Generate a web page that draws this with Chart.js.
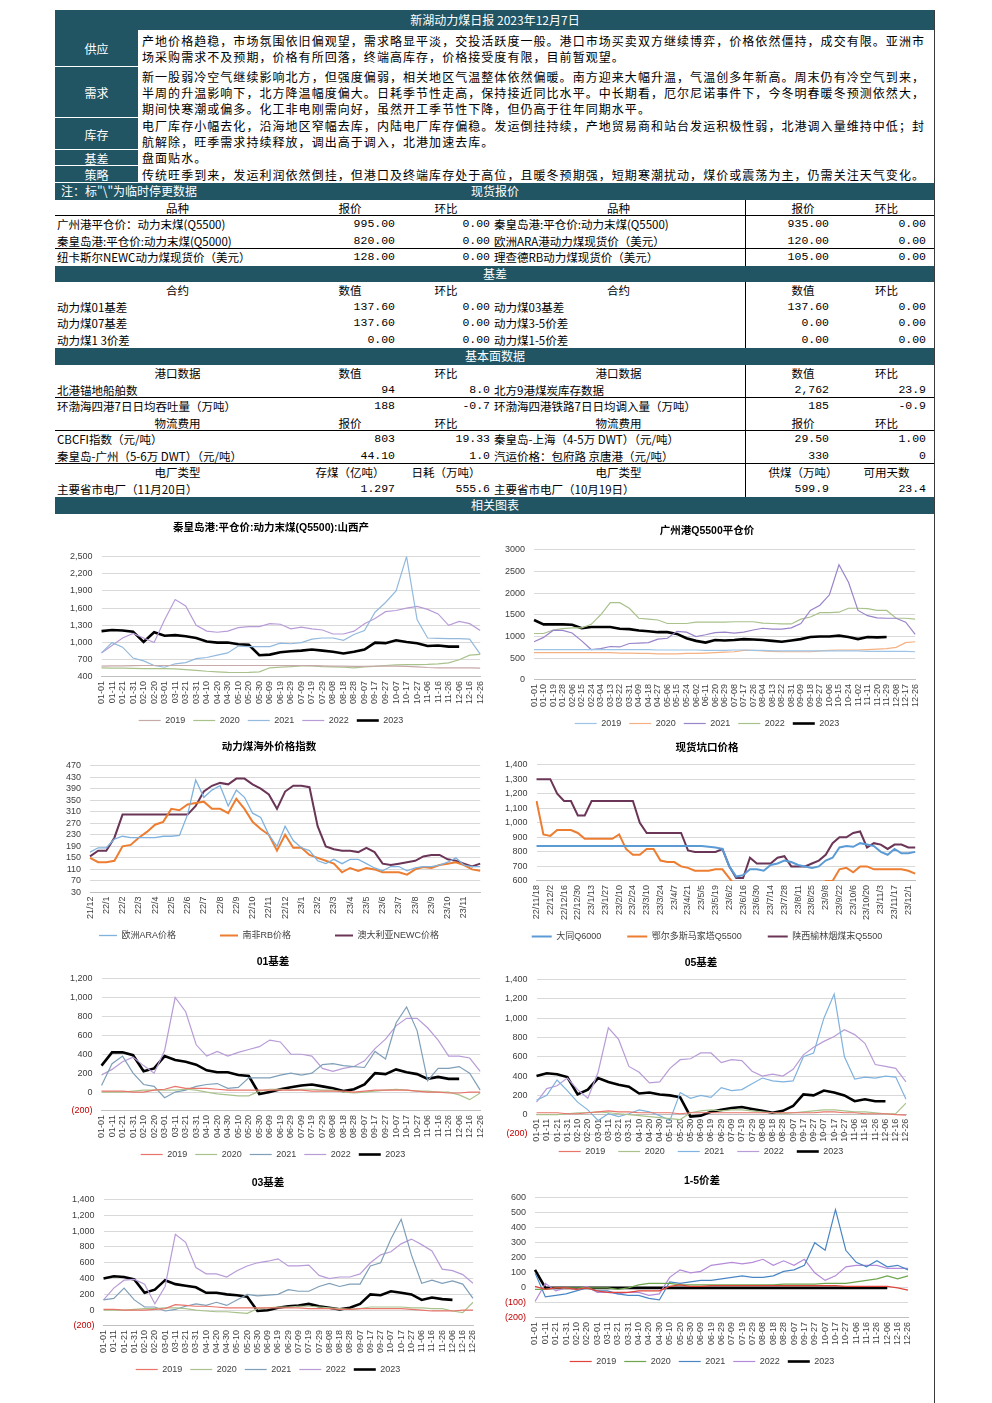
<!DOCTYPE html>
<html lang="zh-CN">
<head>
<meta charset="utf-8">
<title>新湖动力煤日报 2023年12月7日</title>
<script src="https://cdn.jsdelivr.net/npm/chart.js@4.4.0/dist/chart.umd.min.js"></script>
<style>
  * { box-sizing: border-box; }
  body { margin: 0; background: #fff; color: #000; font-family: "Noto Sans CJK SC", sans-serif; }
  #page { position: relative; width: 992px; height: 1403px; overflow: hidden; }
  #edge { position: absolute; left: 934px; top: 10px; width: 1px; height: 1393px; background: #3a3a3a; }

  #top { position: absolute; left: 55px; top: 10px; width: 880px; }
  #top .ttl { height: 20px; line-height: 20px; background: #215563; color: #fff; text-align: center; font-size: 12px; }
  #top .trow { display: flex; overflow: hidden; }
  #top .lab { width: 83px; flex: none; display: flex; align-items: center; justify-content: center;
              background: #215563; color: #fff; font-size: 12px; box-shadow: inset 0 -1px 0 #fff; }
  #top .txt { flex: 1; display: flex; align-items: center; font-size: 12px; letter-spacing: 1.05px; line-height: 16px;
              padding-left: 4px; white-space: nowrap; overflow: hidden; }

  #grid { position: absolute; left: 55px; top: 183px; width: 880px; }
  .bar { height: 16.55px; background: #215563; color: #fff; font-size: 12px; text-align: center; line-height: 16.55px; position: relative; }
  .bar .note { position: absolute; left: 6px; top: 0; }
  .row { display: grid; grid-template-columns: 245px 100px 92px 253px 115px 75px; height: 16.55px; font-size: 11.5px; line-height: 16px; }
  .row > div { white-space: nowrap; overflow: hidden; }
  .row > div:nth-child(5) { border-left: 1px solid #000; }
  .row .c { text-align: center; }
  .row .t { padding-left: 2px; }
  .row .m { font-family: "Liberation Mono", monospace; font-size: 11.5px; text-align: right; }
  .row > .m:nth-child(2) { padding-right: 5px; }
  .row > .m:nth-child(3) { padding-right: 2px; }
  .row > .m:nth-child(5) { padding-right: 31px; }
  .row > .m:nth-child(6) { padding-right: 9px; }
  .row.hd > div:nth-child(6) { padding-right: 22px; }
  .row.ln { border-bottom: 1px solid #000; }

  .cbox { position: absolute; width: 440px; }
</style>
</head>
<body>
<div id="page">
  <div id="top">
    <div class="ttl">新湖动力煤日报 2023年12月7日</div>
    <div class="trow" style="height:37px"><div class="lab">供应</div><div class="txt">产地价格趋稳，市场氛围依旧偏观望，需求略显平淡，交投活跃度一般。港口市场买卖双方继续博弈，价格依然僵持，成交有限。亚洲市<br>场采购需求不及预期，价格有所回落，终端高库存，价格接受度有限，目前暂观望。</div></div>
    <div class="trow" style="height:51px"><div class="lab">需求</div><div class="txt">新一股弱冷空气继续影响北方，但强度偏弱，相关地区气温整体依然偏暖。南方迎来大幅升温，气温创多年新高。周末仍有冷空气到来，<br>半周的升温影响下，北方降温幅度偏大。日耗季节性走高，保持接近同比水平。中长期看，厄尔尼诺事件下，今冬明春暖冬预测依然大，<br>期间快寒潮或偏多。化工非电刚需向好，虽然开工季节性下降，但仍高于往年同期水平。</div></div>
    <div class="trow" style="height:32px"><div class="lab">库存</div><div class="txt">电厂库存小幅去化，沿海地区窄幅去库，内陆电厂库存偏稳。发运倒挂持续，产地贸易商和站台发运积极性弱，北港调入量维持中低；封<br>航解除，旺季需求持续释放，调出高于调入，北港加速去库。</div></div>
    <div class="trow" style="height:16px"><div class="lab">基差</div><div class="txt">盘面贴水。</div></div>
    <div class="trow" style="height:17px"><div class="lab">策略</div><div class="txt">传统旺季到来，发运利润依然倒挂，但港口及终端库存处于高位，且暖冬预期强，短期寒潮扰动，煤价或震荡为主，仍需关注天气变化。</div></div>
  </div>

  <div id="grid">
    <div class="bar"><span class="note">注：标"\"为临时停更数据</span>现货报价</div>
    <div class="row hd ln"><div class="c">品种</div><div class="c">报价</div><div class="c">环比</div><div class="c">品种</div><div class="c">报价</div><div class="c">环比</div></div>
    <div class="row"><div class="t">广州港平仓价：动力末煤(Q5500)</div><div class="m">995.00</div><div class="m">0.00</div><div class="t">秦皇岛港:平仓价:动力末煤(Q5500)</div><div class="m">935.00</div><div class="m">0.00</div></div>
    <div class="row ln"><div class="t">秦皇岛港:平仓价:动力末煤(Q5000)</div><div class="m">820.00</div><div class="m">0.00</div><div class="t">欧洲ARA港动力煤现货价（美元）</div><div class="m">120.00</div><div class="m">0.00</div></div>
    <div class="row"><div class="t">纽卡斯尔NEWC动力煤现货价（美元）</div><div class="m">128.00</div><div class="m">0.00</div><div class="t">理查德RB动力煤现货价（美元）</div><div class="m">105.00</div><div class="m">0.00</div></div>
    <div class="bar">基差</div>
    <div class="row hd"><div class="c">合约</div><div class="c">数值</div><div class="c">环比</div><div class="c">合约</div><div class="c">数值</div><div class="c">环比</div></div>
    <div class="row"><div class="t">动力煤01基差</div><div class="m">137.60</div><div class="m">0.00</div><div class="t">动力煤03基差</div><div class="m">137.60</div><div class="m">0.00</div></div>
    <div class="row"><div class="t">动力煤07基差</div><div class="m">137.60</div><div class="m">0.00</div><div class="t">动力煤3-5价差</div><div class="m">0.00</div><div class="m">0.00</div></div>
    <div class="row"><div class="t">动力煤1 3价差</div><div class="m">0.00</div><div class="m">0.00</div><div class="t">动力煤1-5价差</div><div class="m">0.00</div><div class="m">0.00</div></div>
    <div class="bar">基本面数据</div>
    <div class="row hd"><div class="c">港口数据</div><div class="c">数值</div><div class="c">环比</div><div class="c">港口数据</div><div class="c">数值</div><div class="c">环比</div></div>
    <div class="row ln"><div class="t">北港锚地船舶数</div><div class="m">94</div><div class="m">8.0</div><div class="t">北方9港煤炭库存数据</div><div class="m">2,762</div><div class="m">23.9</div></div>
    <div class="row"><div class="t">环渤海四港7日日均吞吐量（万吨）</div><div class="m">188</div><div class="m">-0.7</div><div class="t">环渤海四港铁路7日日均调入量（万吨）</div><div class="m">185</div><div class="m">-0.9</div></div>
    <div class="row hd ln"><div class="c">物流费用</div><div class="c">报价</div><div class="c">环比</div><div class="c">物流费用</div><div class="c">报价</div><div class="c">环比</div></div>
    <div class="row"><div class="t">CBCFI指数（元/吨）</div><div class="m">803</div><div class="m">19.33</div><div class="t">秦皇岛-上海（4-5万 DWT）（元/吨）</div><div class="m">29.50</div><div class="m">1.00</div></div>
    <div class="row ln"><div class="t">秦皇岛-广州（5-6万 DWT）（元/吨）</div><div class="m">44.10</div><div class="m">1.0</div><div class="t">汽运价格：包府路 京唐港（元/吨）</div><div class="m">330</div><div class="m">0</div></div>
    <div class="row hd"><div class="c">电厂类型</div><div class="c">存煤（亿吨）</div><div class="c">日耗（万吨）</div><div class="c">电厂类型</div><div class="c">供煤（万吨）</div><div class="c">可用天数</div></div>
    <div class="row"><div class="t">主要省市电厂（11月20日）</div><div class="m">1.297</div><div class="m">555.6</div><div class="t">主要省市电厂（10月19日）</div><div class="m">599.9</div><div class="m">23.4</div></div>
    <div class="bar">相关图表</div>
  </div>

  <div class="cbox" style="left:55px;top:514px;height:221px"><canvas id="c1"></canvas></div>
  <div class="cbox" style="left:490px;top:517px;height:221px"><canvas id="c2"></canvas></div>
  <div class="cbox" style="left:55px;top:735px;height:215px"><canvas id="c3"></canvas></div>
  <div class="cbox" style="left:490px;top:736px;height:215px"><canvas id="c4"></canvas></div>
  <div class="cbox" style="left:55px;top:950px;height:219px"><canvas id="c5"></canvas></div>
  <div class="cbox" style="left:490px;top:951px;height:215px"><canvas id="c6"></canvas></div>
  <div class="cbox" style="left:55px;top:1167px;height:217px"><canvas id="c7"></canvas></div>
  <div class="cbox" style="left:490px;top:1169px;height:215px"><canvas id="c8"></canvas></div>
  <div id="edge"></div>
</div>

<script>
// ---- x-axis categories ----
const days10 = ['01-01','01-11','01-21','01-31','02-10','02-20','03-01','03-11','03-21','03-31','04-10','04-20','04-30',
  '05-10','05-20','05-30','06-09','06-19','06-29','07-09','07-19','07-29','08-08','08-18','08-28','09-07','09-17','09-27',
  '10-07','10-17','10-27','11-06','11-16','11-26','12-06','12-16','12-26'];
const days9 = ['01-01','01-10','01-19','01-28','02-06','02-15','02-24','03-04','03-13','03-22','03-31','04-09','04-18','04-27',
  '05-06','05-15','05-24','06-02','06-11','06-20','06-29','07-08','07-17','07-26','08-04','08-13','08-22','08-31','09-09',
  '09-18','09-27','10-06','10-15','10-24','11-02','11-11','11-20','11-29','12-08','12-17','12-26'];
const halfMonths = ['21/12','','22/1','','22/2','','22/3','','22/4','','22/5','','22/6','','22/7','','22/8','','22/9','',
  '22/10','','22/11','','22/12','','23/1','','23/2','','23/3','','23/4','','23/5','','23/6','','23/7','','23/8','',
  '23/9','','23/10','','23/11','',''];
const weeks = ['22/11/18','','22/12/2','','22/12/16','','22/12/30','','23/1/13','','23/1/27','','23/2/10','','23/2/24','',
  '23/3/10','','23/3/24','','23/4/7','','23/4/21','','23/5/5','','23/5/19','','23/6/2','','23/6/16','','23/6/30','',
  '23/7/14','','23/7/28','','23/8/11','','23/8/25','','23/9/8','','23/9/22','','23/10/6','','23/10/20','','23/11/3','',
  '23/11/17','','23/12/1',''];
const yearNames = ['2019','2020','2021','2022','2023'];

// ---- 秦皇岛港 平仓价 Q5500 山西产 ----
const qhd2019 = [590,595,595,598,600,600,600,600,600,600,600,600,600,600,600,600,600,598,598,600,598,595,590,590,585,585,590,590,590,585,575,565,560,560,558,558,555];
const qhd2020 = [560,555,555,550,545,545,545,540,530,515,500,490,480,478,480,490,560,570,580,595,595,580,575,570,560,575,585,600,610,615,615,620,630,645,700,780,795];
const qhd2021 = [820,1000,920,730,680,600,570,630,650,720,740,780,820,940,930,930,930,990,980,1000,1060,1080,1080,1040,1140,1210,1530,1700,1900,2500,1400,1080,1075,1070,1070,1060,800];
const qhd2022 = [820,950,1080,1160,1080,1000,1400,1750,1640,1300,1200,1180,1200,1260,1280,1280,1330,1320,1240,1270,1240,1220,1150,1150,1200,1330,1420,1540,1560,1600,1630,1580,1500,1300,1370,1330,1210];
const qhd2023 = [1200,1220,1210,1190,1010,1180,1120,1130,1110,1080,1020,1000,1000,970,960,780,790,830,850,860,880,860,840,810,840,880,1000,990,1040,1010,990,940,950,930,930,null,null];

// ---- 广州港 Q5500 平仓价 ----
const gz2019 = [700,700,700,700,700,700,700,700,700,700,700,700,700,690,690,690,690,690,680,680,680,690,690,680,680,670,670,670,670,670,670,670,670,670,670,660,660,660,660,660,650];
const gz2020 = [630,630,630,630,630,630,630,630,630,620,620,610,610,600,600,600,610,610,620,630,640,650,680,680,670,660,650,650,650,650,670,680,690,690,690,700,710,720,750,860,880];
const gz2021 = [880,980,1140,1140,1080,900,700,720,770,760,840,850,860,940,960,1120,1100,1000,1040,1090,1100,1080,1100,1150,1190,1170,1170,1200,1300,1600,1720,1960,2650,2250,1600,1480,1430,1420,1420,1330,1050];
const gz2022 = [1070,1070,1150,1180,1200,1200,1280,1500,1780,1780,1650,1420,1400,1380,1300,1300,1300,1330,1330,1330,1330,1340,1340,1340,1310,1300,1290,1290,1400,1450,1550,1550,1560,1650,1650,1640,1600,1600,1420,1420,1400];
const gz2023 = [1380,1280,1280,1280,1270,1190,1220,1220,1220,1180,1170,1140,1120,1100,1100,1060,960,900,860,920,910,920,940,930,920,900,880,910,940,990,1000,1000,1020,990,940,990,980,990,null,null,null];

// ---- 海外价格指数 (美元) ----
const araPrice = [170,185,185,215,225,220,220,220,220,225,225,228,300,420,360,385,400,330,385,360,305,290,230,190,260,210,185,175,140,130,145,130,145,145,130,115,105,120,120,105,115,120,120,125,135,150,125,120,120];
const rbPrice = [150,135,135,140,190,195,220,240,265,275,320,315,335,340,345,320,320,305,355,320,275,250,230,175,230,185,185,160,150,140,130,100,115,105,115,110,100,100,100,92,110,118,115,125,130,135,125,110,105];
const newcPrice = [155,175,175,220,300,300,300,300,300,300,300,300,300,330,380,400,410,405,425,425,405,390,370,320,380,400,400,395,260,190,180,175,175,170,185,170,130,125,130,135,140,155,160,160,145,140,130,120,130];

// ---- 坑口价格 ----
const datongQ6000 = [840,840,840,840,840,840,840,840,840,840,840,840,840,840,840,840,840,840,840,840,840,840,840,840,840,835,830,820,700,630,640,680,680,670,710,720,740,730,710,700,690,700,740,760,830,840,835,860,850,840,800,780,820,790,790,800];
const ordosQ5500 = [1150,920,910,950,950,950,930,890,890,890,890,890,920,820,780,780,820,820,740,730,730,700,690,670,670,670,680,680,620,560,560,560,560,560,560,560,560,560,560,560,560,560,600,600,680,690,660,700,700,680,680,680,680,680,670,650];
const yulinQ5500 = [1300,1300,1300,1200,1150,1150,1050,1050,1150,1150,1150,1150,1150,1150,1150,1000,930,930,930,930,930,930,810,800,800,800,800,820,700,620,620,760,720,720,720,760,770,700,700,700,720,740,780,860,900,900,930,940,830,860,850,820,850,850,830,830];

// ---- 01基差 ----
const b01y2019 = [10,10,10,0,0,20,30,60,40,40,40,30,20,20,20,20,20,20,20,20,10,10,10,10,0,10,20,20,20,20,10,0,0,-10,-10,0,0];
const b01y2020 = [0,0,0,10,20,20,20,20,30,20,0,-20,-30,-40,-40,10,30,30,20,30,30,20,20,0,-10,0,10,20,30,20,10,10,0,0,-30,-80,-10];
const b01y2021 = [70,300,380,200,80,60,-60,0,20,60,80,90,40,50,150,150,150,180,200,180,200,290,300,280,270,260,430,350,730,900,650,120,250,250,270,200,20];
const b01y2022 = [180,240,320,370,280,200,440,1000,850,500,380,430,380,420,450,480,550,530,400,400,380,250,220,250,270,330,460,560,700,780,780,680,550,380,380,360,220];
const b01y2023 = [280,420,420,390,220,250,380,340,320,290,230,210,210,180,170,-20,0,30,50,70,80,60,40,10,30,80,200,190,240,210,190,140,160,140,140,null,null];

// ---- 05基差 ----
const b05y2019 = [20,20,20,10,10,20,30,40,30,30,20,20,20,20,10,20,20,20,20,20,20,20,20,20,20,20,20,20,30,30,20,20,10,10,10,0,-5];
const b05y2020 = [0,0,0,10,20,20,30,20,10,0,-10,-20,-30,-40,-50,20,40,50,40,50,50,40,30,20,10,20,30,40,50,50,40,30,30,20,10,10,120];
const b05y2021 = [150,200,360,250,130,50,-60,10,-20,10,50,30,-10,-60,230,170,200,180,280,250,260,320,380,350,340,350,600,640,1000,1250,600,370,390,380,400,390,160];
const b05y2022 = [130,270,300,380,260,170,440,900,780,500,440,330,340,480,570,580,640,640,540,570,560,450,400,420,400,470,620,700,760,810,880,830,740,520,500,480,340];
const b05y2023 = [400,430,420,390,210,260,380,340,310,290,220,230,210,200,180,-20,-10,30,50,70,80,60,40,20,40,90,210,200,250,230,200,140,160,140,140,null,null];

// ---- 03基差 ----
const b03y2019 = [10,10,0,0,0,10,20,70,60,50,50,40,30,30,30,30,30,30,30,30,20,20,20,10,10,20,20,20,20,20,10,0,-10,-10,-10,0,0];
const b03y2020 = [0,0,0,10,20,20,30,30,20,0,-10,-20,-20,-30,-40,20,30,40,40,50,50,40,30,20,10,20,40,40,40,40,30,30,20,20,-10,-30,100];
const b03y2021 = [130,150,280,130,40,40,-10,10,50,80,60,100,60,130,200,180,190,200,260,240,240,300,340,300,330,330,560,600,900,1150,700,340,380,340,370,330,150];
const b03y2022 = [130,280,380,390,330,80,300,960,860,540,460,460,420,500,560,600,620,650,560,560,570,440,400,420,420,460,600,700,740,840,900,830,750,520,500,450,340];
const b03y2023 = [400,430,420,390,220,260,380,330,310,290,220,220,200,190,170,-10,0,30,50,60,80,50,30,10,30,80,200,190,240,220,200,130,160,140,130,null,null];

// ---- 1-5价差 ----
const s15y2019 = [10,-10,0,0,-10,0,-20,-30,-30,-30,-20,-20,-20,10,20,10,10,15,15,15,15,15,15,15,15,15,15,15,15,15,10,10,10,10,10,0,-15];
const s15y2020 = [-10,-10,0,0,0,0,0,0,-10,0,20,30,30,30,20,20,20,20,20,20,20,20,20,20,25,25,25,25,30,30,30,40,50,60,80,60,80];
const s15y2021 = [100,-60,-50,-40,-20,0,-20,-20,-40,-50,-50,-70,-80,40,30,40,50,50,60,70,80,70,70,80,110,120,150,300,250,520,250,170,140,180,140,150,120];
const s15y2022 = [-90,30,-20,0,-10,10,-30,-30,-40,-30,-30,-50,-40,70,120,100,110,150,160,170,160,170,190,150,180,150,190,100,50,80,140,150,150,150,130,130,130];
const s15y2023 = [120,0,0,0,0,0,0,0,0,0,0,0,0,0,0,0,0,0,0,0,0,0,0,0,0,0,0,0,0,0,0,0,0,0,0,null,null];

Chart.defaults.font.family = "'Liberation Sans', 'Noto Sans CJK SC', sans-serif";
Chart.defaults.color = '#404040';

function fmt(v, comma) {
  const a = Math.abs(v);
  const s = comma ? a.toLocaleString('en-US') : String(a);
  return v < 0 ? '(' + s + ')' : s;
}

function line(label, data, color, width) {
  return {
    label, data,
    borderColor: color, backgroundColor: color,
    borderWidth: width || 1.2,
    pointRadius: 0, pointHoverRadius: 0,
    tension: 0
  };
}

function yearLines(series, colors) {
  return series.map((d, i) => line(yearNames[i], d, colors[i], i === 4 ? 2.6 : 1.2));
}

function makeChart(id, cfg) {
  const comma = cfg.comma !== false;
  const xScale = {
    grid: { display: false, drawTicks: false },
    border: { color: '#bfbfbf' },
    ticks: {
      autoSkip: false, maxRotation: 90, minRotation: 90, padding: 4,
      color: '#404040', font: { size: 9 },
      callback: (v, i) => cfg.labels[i]
    }
  };
  // Excel-style axis crossing at zero (labels hang into the negative band)
  if (cfg.axisAtZero) xScale.position = { y: 0 };
  return new Chart(document.getElementById(id), {
    type: 'line',
    data: { labels: cfg.labels, datasets: cfg.sets },
    options: {
      responsive: true,
      maintainAspectRatio: false,
      animation: false,
      layout: { padding: cfg.pad },
      plugins: {
        title: {
          display: true, text: cfg.title, color: '#000',
          font: { size: 10.5, weight: 'bold' },
          padding: { top: cfg.titleTop || 4, bottom: cfg.titleGap || 16 }
        },
        legend: {
          position: 'bottom',
          labels: {
            usePointStyle: true, pointStyle: 'line', pointStyleWidth: cfg.keyWidth || 22,
            color: '#404040', font: { size: 9 }, padding: cfg.legendPad || 8, boxHeight: 8,
            generateLabels: chart => {
              const items = Chart.defaults.plugins.legend.labels.generateLabels(chart);
              if (cfg.legendSpace) {
                items.forEach((it, i) => { if (i < items.length - 1) it.text += cfg.legendSpace; });
              }
              return items;
            }
          }
        },
        tooltip: { enabled: false }
      },
      scales: {
        x: xScale,
        y: {
          min: cfg.min, max: cfg.max,
          grid: { color: '#d9d9d9', drawTicks: false },
          border: { display: false },
          ticks: {
            stepSize: cfg.step, autoSkip: false, padding: 9, font: { size: 9 },
            color: c => (c.tick && c.tick.value < 0 ? '#c00000' : '#404040'),
            callback: v => fmt(v, comma)
          }
        }
      }
    }
  });
}

makeChart('c1', {
  title: '秦皇岛港:平仓价:动力末煤(Q5500):山西产', labels: days10,
  sets: yearLines([qhd2019, qhd2020, qhd2021, qhd2022, qhd2023], ['#c6a9a9', '#a9c28c', '#93b9dd', '#b89cd7', '#000']),
  min: 400, max: 2500, step: 300, pad: { left: 6, right: 14, top: 4, bottom: 0 }, titleGap: 22
});

makeChart('c2', {
  title: '广州港Q5500平仓价', labels: days9, comma: false,
  sets: yearLines([gz2019, gz2020, gz2021, gz2022, gz2023], ['#9dc3e6', '#f4b183', '#9a84c9', '#a9c28c', '#000']),
  min: 0, max: 3000, step: 500, pad: { left: 6, right: 12, top: 4, bottom: 0 }, titleGap: 12
});

makeChart('c3', {
  title: '动力煤海外价格指数', labels: halfMonths, comma: false,
  sets: [
    line('欧洲ARA价格', araPrice, '#7fb2de', 1.3),
    line('南非RB价格', rbPrice, '#ed7d31', 2),
    line('澳大利亚NEWC价格', newcPrice, '#6a3557', 2)
  ],
  min: 30, max: 470, step: 40, pad: { left: 2, right: 14, top: 2, bottom: 0 }, titleGap: 12,
  keyWidth: 18, legendSpace: '\u2003\u2003\u2003\u2003'
});

makeChart('c4', {
  title: '现货坑口价格', labels: weeks,
  sets: [
    line('大同Q6000', datongQ6000, '#5b9bd5', 2),
    line('鄂尔多斯马家塔Q5500', ordosQ5500, '#ed7d31', 2),
    line('陕西榆林烟煤末Q5500', yulinQ5500, '#6a3557', 2)
  ],
  min: 600, max: 1400, step: 100, pad: { left: 6, right: 12, top: 2, bottom: 0 }, titleGap: 10,
  keyWidth: 20, legendSpace: '\u2003\u2003'
});

makeChart('c5', {
  title: '01基差', labels: days10,
  sets: yearLines([b01y2019, b01y2020, b01y2021, b01y2022, b01y2023], ['#e8746a', '#a9c28c', '#7f9fb8', '#b89cd7', '#000']),
  min: -200, max: 1200, step: 200, pad: { left: 6, right: 10, top: 2, bottom: 0 }, titleGap: 10
});

makeChart('c6', {
  title: '05基差', labels: days10, axisAtZero: true, legendPad: 13,
  sets: yearLines([b05y2019, b05y2020, b05y2021, b05y2022, b05y2023], ['#e8746a', '#a9c28c', '#7fb2de', '#b89cd7', '#000']),
  min: -200, max: 1400, step: 200, pad: { left: 6, right: 24, top: 2, bottom: 0 }, titleGap: 10
});

makeChart('c7', {
  title: '03基差', labels: days10,
  sets: yearLines([b03y2019, b03y2020, b03y2021, b03y2022, b03y2023], ['#e8746a', '#a9c28c', '#7f9fb8', '#b89cd7', '#000']),
  min: -200, max: 1400, step: 200, pad: { left: 8, right: 22, top: 6, bottom: 0 }, titleGap: 10
});

makeChart('c8', {
  title: '1-5价差', labels: days10,
  sets: yearLines([s15y2019, s15y2020, s15y2021, s15y2022, s15y2023], ['#e0443a', '#6ea64e', '#4a86c4', '#b58ad8', '#000']),
  min: -200, max: 600, step: 100, pad: { left: 6, right: 22, top: 2, bottom: 8 }, titleGap: 10
});
</script>
</body>
</html>
